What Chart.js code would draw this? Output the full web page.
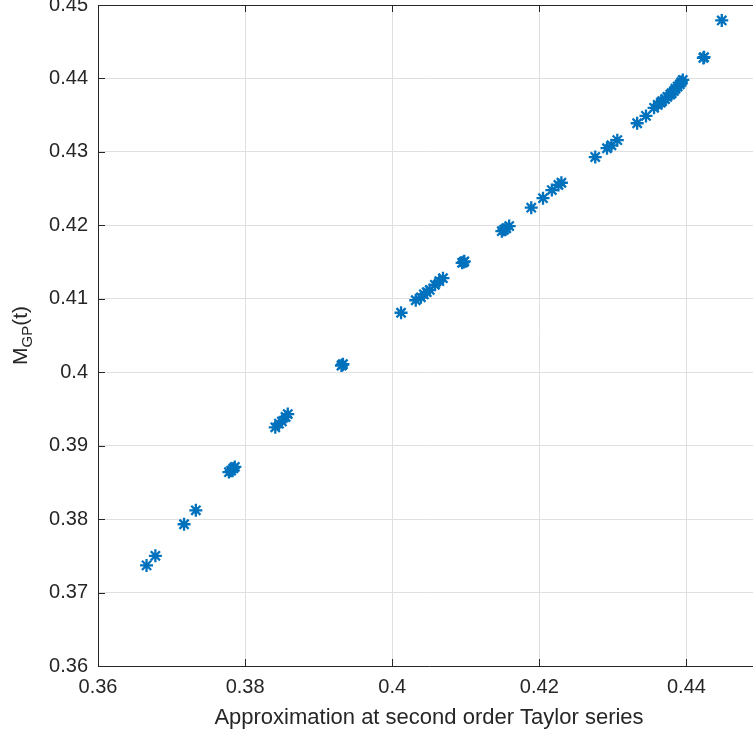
<!DOCTYPE html>
<html>
<head>
<meta charset="utf-8">
<script src="https://cdn.jsdelivr.net/npm/chart.js@4"></script>
<style>
  html, body { margin: 0; padding: 0; background: #fff; overflow: hidden; }
  #wrap { position: relative; width: 753px; height: 736px; overflow: hidden; }
  #chart { position: absolute; left: 0; top: -17px; }
</style>
</head>
<body>
<div id="wrap"><canvas id="chart" width="770" height="753"></canvas></div>
<script>
const xApprox = [
  0.3666, 0.3678, 0.3717, 0.3733,
  0.3778, 0.3781, 0.3784, 0.3786,
  0.3841, 0.3846, 0.3850, 0.3855, 0.3858,
  0.3931, 0.3932, 0.3933,
  0.4012,
  0.4032, 0.4039, 0.4043, 0.4047, 0.4051, 0.4058, 0.4064, 0.4069,
  0.4095, 0.4097, 0.4098,
  0.4149, 0.4152, 0.4155, 0.4159,
  0.4189, 0.4205, 0.4217, 0.4226, 0.4230,
  0.4276, 0.4292, 0.4298, 0.4306,
  0.4333, 0.4345,
  0.4356, 0.4361, 0.4365, 0.4367, 0.4371, 0.4374, 0.4378, 0.4380, 0.4383, 0.4385, 0.4388, 0.4391, 0.4393, 0.4395,
  0.4423, 0.4424,
  0.4448,
];
const yGP = [
  0.3737, 0.3750, 0.3793, 0.3812,
  0.3864, 0.3866, 0.3869, 0.3871,
  0.3925, 0.3930, 0.3933, 0.3939, 0.3943,
  0.4009, 0.4010, 0.4011,
  0.4081,
  0.4098, 0.4102, 0.4106, 0.4109, 0.4112, 0.4119, 0.4124, 0.4128,
  0.4149, 0.4150, 0.4151,
  0.4192, 0.4194, 0.4196, 0.4199,
  0.4224, 0.4237, 0.4248, 0.4255, 0.4258,
  0.4293, 0.4305, 0.4309, 0.4316,
  0.4339, 0.4349,
  0.4360, 0.4364, 0.4367, 0.4369, 0.4372, 0.4375, 0.4378, 0.4380, 0.4383, 0.4386, 0.4389, 0.4392, 0.4395, 0.4398,
  0.4428, 0.4429,
  0.4479,
];
const xTicks = [0.36, 0.38, 0.4, 0.42, 0.44];
const yTicks = [0.36, 0.37, 0.38, 0.39, 0.4, 0.41, 0.42, 0.43, 0.44, 0.45];
const xTitle = "Approximation at second order Taylor series";
const yTitle = ["M", "GP", "(t)"];

const axisColor = "#262626";
const gridColor = "#dfdfdf";
const markerColor = "#0072BD";
const fontFamily = "'Liberation Sans', Arial, sans-serif";

// MATLAB style box: top/right edges and inward ticks
const boxPlugin = {
  id: "box",
  afterDraw(chart) {
    const { ctx, chartArea: a, scales } = chart;
    const len = 7;
    ctx.save();
    ctx.strokeStyle = axisColor;
    ctx.lineWidth = 1;
    ctx.beginPath();
    ctx.moveTo(a.left, a.top + 0.5);
    ctx.lineTo(a.right, a.top + 0.5);
    ctx.moveTo(a.right - 0.5, a.top);
    ctx.lineTo(a.right - 0.5, a.bottom);
    xTicks.forEach((v) => {
      const px = Math.round(scales.x.getPixelForValue(v)) + 0.5;
      ctx.moveTo(px, a.bottom);
      ctx.lineTo(px, a.bottom - len);
      ctx.moveTo(px, a.top);
      ctx.lineTo(px, a.top + len);
    });
    yTicks.forEach((v) => {
      const py = Math.round(scales.y.getPixelForValue(v)) + 0.5;
      ctx.moveTo(a.left, py);
      ctx.lineTo(a.left + len, py);
      ctx.moveTo(a.right, py);
      ctx.lineTo(a.right - len, py);
    });
    ctx.stroke();

    // y title with subscript
    ctx.fillStyle = axisColor;
    ctx.translate(27, (a.top + a.bottom) / 2);
    ctx.rotate(-Math.PI / 2);
    ctx.textBaseline = "alphabetic";
    const big = "21px " + fontFamily;
    const small = "15px " + fontFamily;
    ctx.font = big;
    const w1 = ctx.measureText(yTitle[0]).width;
    const w3 = ctx.measureText(yTitle[2]).width;
    ctx.font = small;
    const w2 = ctx.measureText(yTitle[1]).width;
    let x0 = -(w1 + w2 + w3) / 2;
    ctx.font = big;
    ctx.fillText(yTitle[0], x0, 0);
    ctx.font = small;
    ctx.fillText(yTitle[1], x0 + w1, 5);
    ctx.font = big;
    ctx.fillText(yTitle[2], x0 + w1 + w2, 0);
    ctx.restore();
  },
};

const points = xApprox.map((x, i) => ({ x: x, y: yGP[i] }));

new Chart(document.getElementById("chart"), {
  type: "scatter",
  data: {
    datasets: [
      {
        data: points,
        pointStyle: "star",
        pointRadius: 6.5,
        pointBorderWidth: 2.3,
        borderColor: markerColor,
        backgroundColor: markerColor,
      },
    ],
  },
  options: {
    responsive: false,
    animation: false,
    layout: { padding: { left: 0, right: 10, top: 22, bottom: 0 } },
    plugins: { legend: { display: false }, tooltip: { enabled: false } },
    scales: {
      x: {
        type: "linear",
        min: 0.36,
        max: 0.45,
        afterBuildTicks: (scale) => {
          scale.ticks = xTicks.map((v) => ({ value: v }));
        },
        afterFit: (scale) => {
          scale.height = 70;
        },
        ticks: {
          callback: (v) => String(v),
          color: axisColor,
          font: { family: fontFamily, size: 20 },
          padding: 9,
          maxRotation: 0,
        },
        grid: { color: gridColor, drawTicks: false },
        border: { color: axisColor, width: 1 },
        title: {
          display: true,
          text: xTitle,
          color: axisColor,
          font: { family: fontFamily, size: 22 },
          padding: { top: 0, bottom: 5 },
        },
      },
      y: {
        type: "linear",
        min: 0.36,
        max: 0.45,
        afterBuildTicks: (scale) => {
          scale.ticks = yTicks.map((v) => ({ value: v }));
        },
        afterFit: (scale) => {
          scale.width = 98;
        },
        ticks: {
          callback: (v) => String(v),
          color: axisColor,
          font: { family: fontFamily, size: 20 },
          padding: 10,
        },
        grid: { color: gridColor, drawTicks: false },
        border: { color: axisColor, width: 1 },
      },
    },
  },
  plugins: [boxPlugin],
});
</script>
</body>
</html>
